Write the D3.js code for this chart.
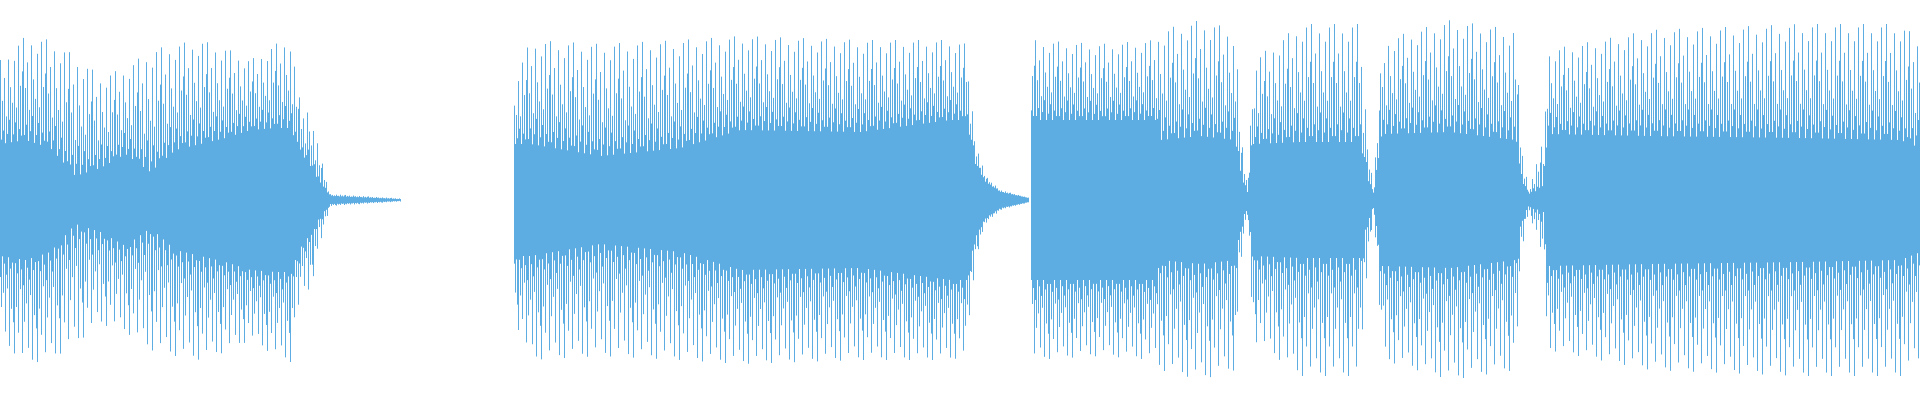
<!DOCTYPE html>
<html><head><meta charset="utf-8">
<script src="https://cdn.jsdelivr.net/npm/d3@7"></script>
<style>body{margin:0;background:#fff}svg{display:block}</style>
</head><body>
<script>
// Envelope samples: x position (px), body amplitude, peak amplitude (0..1)
const envX    = [0,25,50,75,100,125,150,175,200,225,250,275,290,300,310,320,330,400, 514,530,600,680,740,860,950,966,975,985,1000,1028, 1031,1100,1155,1160,1200,1235,1241,1247, 1253,1300,1360,1366,1373, 1382,1450,1515,1521,1528,1543, 1547,1650,1800,1900,1920];
const envBody = [0.28,0.30,0.26,0.12,0.16,0.23,0.14,0.25,0.28,0.31,0.35,0.36,0.36,0.24,0.17,0.08,0.02,0.004, 0.28,0.28,0.22,0.26,0.35,0.34,0.40,0.40,0.18,0.09,0.04,0.01, 0.40,0.40,0.40,0.30,0.32,0.30,0.10,0.04, 0.28,0.29,0.29,0.12,0.03, 0.33,0.34,0.30,0.10,0.03,0.06, 0.33,0.32,0.31,0.30,0.26];
const envPeak = [0.70,0.82,0.80,0.72,0.62,0.66,0.75,0.78,0.80,0.76,0.70,0.78,0.81,0.48,0.45,0.22,0.03,0.008, 0.60,0.80,0.78,0.80,0.82,0.80,0.80,0.78,0.30,0.12,0.05,0.012, 0.80,0.78,0.80,0.85,0.90,0.85,0.30,0.08, 0.70,0.88,0.88,0.40,0.05, 0.80,0.90,0.85,0.30,0.05,0.30, 0.75,0.85,0.88,0.88,0.80];
// Gaps with no signal
const gapStart = [400, 1028];
const gapEnd   = [514, 1031];
// Irregular spike pattern: fraction between body and peak for successive columns
const pattern = [1.0, 0.05, 0.5, 0.15, 0.75, 0.0, 0.3, 0.1, 0.92, 0.25, 0.6, 0.0, 0.42, 0.08, 0.85, 0.2, 0.35, 0.0, 0.97, 0.12, 0.55, 0.05, 0.68];

const W = 1920, H = 400;
const svg = d3.select("body").append("svg").attr("width", W).attr("height", H);
const x = d3.scaleLinear().domain([0, W]).range([0, W]);
const y = d3.scaleLinear().domain([-1, 1]).range([H, 0]);
const bodyAt = d3.scaleLinear().domain(envX).range(envBody).clamp(true);
const peakAt = d3.scaleLinear().domain(envX).range(envPeak).clamp(true);

const cols = d3.range(0, W, 1).filter(c => !gapStart.some((g, i) => c > g && c < gapEnd[i]));
const bars = cols.map((c, i) => {
  const b = bodyAt(c), p = peakAt(c), f = pattern[i % pattern.length];
  const fd = pattern[(i + 9) % pattern.length];
  return {c, up: b + (p - b) * f, down: b + (p - b) * fd};
});
svg.append("g").selectAll("line").data(bars).join("line")
  .attr("x1", d => x(d.c) + 0.5).attr("x2", d => x(d.c) + 0.5)
  .attr("y1", d => y(d.up)).attr("y2", d => y(-d.down))
  .attr("stroke", "#5DADE2").attr("stroke-width", 1);
</script>
</body></html>
